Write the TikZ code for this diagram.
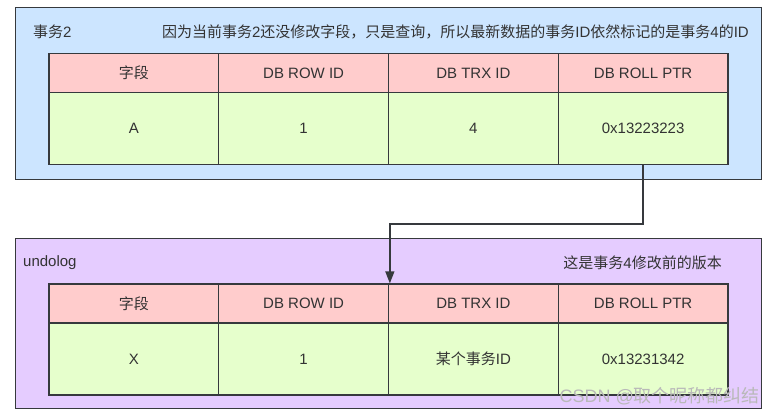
\documentclass[tikz,border=0pt]{standalone}
\usepackage{fontspec}
\setmainfont{Liberation Sans}
\newfontfamily\cjk{Noto Sans CJK SC}
\usetikzlibrary{calc,arrows.meta}
\definecolor{bluebg}{HTML}{CCE5FF}
\definecolor{purplebg}{HTML}{E5CCFF}
\definecolor{headbg}{HTML}{FFCCCC}
\definecolor{databg}{HTML}{E6FFCC}
\definecolor{edge}{HTML}{36393D}
\definecolor{txt}{HTML}{333333}
\tikzset{
  panel/.style={draw=edge, line width=1.3pt},
  cell/.style={draw=edge, line width=1.3pt, minimum width=169.75pt, inner sep=0pt, text=txt, font=\fontsize{15}{18}\selectfont},
  headcell/.style={cell, fill=headbg, minimum height=39pt},
  datacell/.style={cell, fill=databg, minimum height=72pt},
  lbl/.style={inner sep=0pt, text=txt, font=\fontsize{15}{18}\selectfont},
  link/.style={draw=edge, line width=1.3pt, -{Triangle[length=12pt,width=9pt]}}
}
\begin{document}
\begin{tikzpicture}[x=1pt,y=-1pt]
\useasboundingbox (0,0) rectangle (776,416);
% top panel
\node[panel, fill=bluebg, minimum width=746pt, minimum height=172pt, anchor=north west, inner sep=0pt] (p1) at (15,7) {};
\node[lbl, anchor=west] (t1) at (33,32) {{\cjk 事务}2};
\node[lbl, anchor=east] (n1) at (749,32) {{\cjk 因为当前事务}2{\cjk 还没修改字段，只是查询，所以最新数据的事务}ID{\cjk 依然标记的是事务}4{\cjk 的}ID};
\node[headcell] (h1a) at (133.875,73) {{\cjk 字段}};
\node[headcell] (h1b) at (303.625,73) {DB ROW ID};
\node[headcell] (h1c) at (473.375,73) {DB TRX ID};
\node[headcell] (h1d) at (643.125,73) {DB ROLL PTR};
\node[datacell] (d1a) at (133.875,128.5) {A};
\node[datacell] (d1b) at (303.625,128.5) {1};
\node[datacell] (d1c) at (473.375,128.5) {4};
\node[datacell] (d1d) at (643.125,128.5) {0x13223223};
% bottom panel
\node[panel, fill=purplebg, minimum width=746pt, minimum height=170pt, anchor=north west, inner sep=0pt] (p2) at (15,238) {};
\node[lbl, anchor=west] (t2) at (23,263) {undolog};
\node[lbl, anchor=east] (n2) at (722,263) {{\cjk 这是事务}4{\cjk 修改前的版本}};
\node[headcell] (h2a) at (133.875,303.5) {{\cjk 字段}};
\node[headcell] (h2b) at (303.625,303.5) {DB ROW ID};
\node[headcell] (h2c) at (473.375,303.5) {DB TRX ID};
\node[headcell] (h2d) at (643.125,303.5) {DB ROLL PTR};
\node[datacell] (d2a) at (133.875,359) {X};
\node[datacell] (d2b) at (303.625,359) {1};
\node[datacell] (d2c) at (473.375,359) {{\cjk 某个事务}ID};
\node[datacell] (d2d) at (643.125,359) {0x13231342};
% connector
\coordinate (tip) at ($(h2c.north west)+(2,0)$);
\coordinate (bend) at (0,224);
\draw[link] (d1d.south) |- (bend -| tip) -- (tip);
% watermark
\node[inner sep=0pt, anchor=east, text=gray!55, font=\fontsize{18}{20}\selectfont] (wm) at (760,396) {CSDN @{\cjk 取个昵称都纠结}};
\end{tikzpicture}
\end{document}
